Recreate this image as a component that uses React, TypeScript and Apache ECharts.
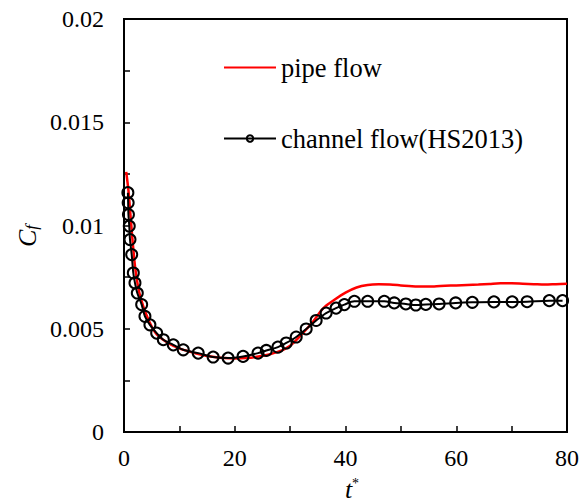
import React, { useEffect, useRef } from "react";
import * as echarts from "echarts";

const pipeT = [0.4, 0.8, 1.2, 1.6, 2, 2.5, 3, 4, 5, 6, 8, 10, 12, 14, 16, 18, 20, 22, 24, 26, 28, 30, 32, 34, 36, 38, 40, 42, 44, 46, 48, 50, 52, 54, 56, 58, 60, 62, 64, 66, 68, 70, 72, 74, 76, 78, 80];
const pipeCf = [0.0126, 0.0117, 0.0104, 0.0091, 0.008, 0.0071, 0.0065, 0.0057, 0.0051, 0.0047, 0.0043, 0.00405, 0.00388, 0.00374, 0.00364, 0.00358, 0.00356, 0.00358, 0.00364, 0.00374, 0.0039, 0.00418, 0.0047, 0.0053, 0.006, 0.0064, 0.00675, 0.007, 0.00712, 0.00715, 0.00714, 0.0071, 0.00706, 0.00704, 0.00705, 0.00708, 0.0071, 0.00712, 0.00714, 0.00717, 0.0072, 0.0072, 0.00718, 0.00716, 0.00714, 0.00716, 0.00718];

const channelT = [0.7, 0.75, 0.8, 0.95, 1.08, 1.39, 1.68, 1.98, 2.4, 3.19, 3.78, 4.68, 5.9, 7.1, 8.9, 10.7, 13.4, 16.1, 18.8, 21.5, 24.2, 25.7, 27.8, 29.3, 31.1, 32.9, 34.7, 36.5, 38.3, 39.8, 41.6, 44.0, 47.0, 48.8, 50.9, 52.7, 54.5, 56.9, 59.9, 62.9, 66.8, 70.1, 72.8, 76.8, 79.2];
const channelCf = [0.01159, 0.0111, 0.01053, 0.00997, 0.00932, 0.00859, 0.0077, 0.00722, 0.00673, 0.00617, 0.0056, 0.00519, 0.00479, 0.00447, 0.00422, 0.00398, 0.00382, 0.00363, 0.00358, 0.00366, 0.00382, 0.00395, 0.00411, 0.00431, 0.0046, 0.00499, 0.0054, 0.00576, 0.006, 0.00617, 0.00633, 0.00633, 0.00633, 0.00625, 0.0062, 0.00615, 0.00618, 0.0062, 0.00625, 0.00628, 0.0063, 0.0063, 0.00631, 0.00636, 0.00636];

const seriesNames = ["pipe flow", "channel flow(HS2013)"];

const FONT = "Liberation Serif";

export default function App() {
  const ref = useRef<HTMLDivElement>(null);
  useEffect(() => {
    if (!ref.current) return;
    const chart = echarts.init(ref.current, null, { renderer: "svg" });
    chart.setOption({
      animation: false,
      backgroundColor: "#fff",
      grid: {
        left: 124, right: 12, top: 19, bottom: 72,
        outerBoundsMode: "none",
        show: true, borderColor: "#000", borderWidth: 2,
      },
      legend: {
        orient: "vertical",
        left: 218,
        top: 49,
        itemWidth: 52,
        itemHeight: 8,
        itemGap: 44,
        data: [
          { name: seriesNames[0], itemStyle: { opacity: 0 } },
          { name: seriesNames[1] },
        ],
        textStyle: { fontSize: 26.5, fontFamily: FONT, color: "#000" },
      },
      xAxis: {
        type: "value",
        min: 0,
        max: 80,
        interval: 20,
        axisLine: { lineStyle: { color: "#000", width: 2 } },
        axisTick: { inside: true, length: 6, lineStyle: { color: "#000", width: 1.5 } },
        minorTick: { show: true, splitNumber: 2, length: 6, lineStyle: { color: "#000", width: 1.5 } },
        splitLine: { show: false },
        axisLabel: { fontFamily: FONT, fontSize: 24, color: "#000", margin: 14 },
      },
      yAxis: {
        type: "value",
        min: 0,
        max: 0.02,
        interval: 0.005,
        axisLine: { lineStyle: { color: "#000", width: 2 } },
        axisTick: { inside: true, length: 6, lineStyle: { color: "#000", width: 1.5 } },
        minorTick: { show: true, splitNumber: 2, length: 6, lineStyle: { color: "#000", width: 1.5 } },
        splitLine: { show: false },
        axisLabel: { fontFamily: FONT, fontSize: 24, color: "#000", margin: 20 },
      },
      graphic: [
        {
          type: "text",
          x: 27,
          y: 236,
          rotation: Math.PI / 2,
          style: {
            text: "{c|C}{f|f}",
            align: "center",
            verticalAlign: "middle",
            rich: {
              c: { fontSize: 26, fontStyle: "italic", fontFamily: FONT, fill: "#000" },
              f: { fontSize: 17, fontStyle: "italic", fontFamily: FONT, fill: "#000", verticalAlign: "bottom", padding: [8, 0, 0, 0] },
            },
          },
        },
        {
          type: "text",
          x: 352,
          y: 489,
          style: {
            text: "{t|t}{s|*}",
            align: "center",
            verticalAlign: "middle",
            rich: {
              t: { fontSize: 26, fontStyle: "italic", fontFamily: FONT, fill: "#000" },
              s: { fontSize: 14, fontFamily: FONT, fill: "#000", verticalAlign: "top" },
            },
          },
        },
      ],
      series: [
        {
          name: seriesNames[0],
          type: "line",
          data: pipeT.map((t, i) => [t, pipeCf[i]]),
          showSymbol: false,
          symbol: "none",
          smooth: 0.3,
          lineStyle: { color: "#ff0000", width: 2.5 },
          itemStyle: { color: "#ff0000" },
          z: 2,
        },
        {
          name: seriesNames[1],
          type: "line",
          data: channelT.map((t, i) => [t, channelCf[i]]),
          symbol: "circle",
          symbolSize: 11,
          smooth: 0.3,
          lineStyle: { color: "#000", width: 2 },
          itemStyle: { color: "transparent", borderColor: "#000", borderWidth: 2 },
          z: 3,
        },
      ],
    });
    return () => chart.dispose();
  }, []);
  return <div ref={ref} style={{ width: 579, height: 504, position: "absolute", left: 0, top: 0 }} />;
}
